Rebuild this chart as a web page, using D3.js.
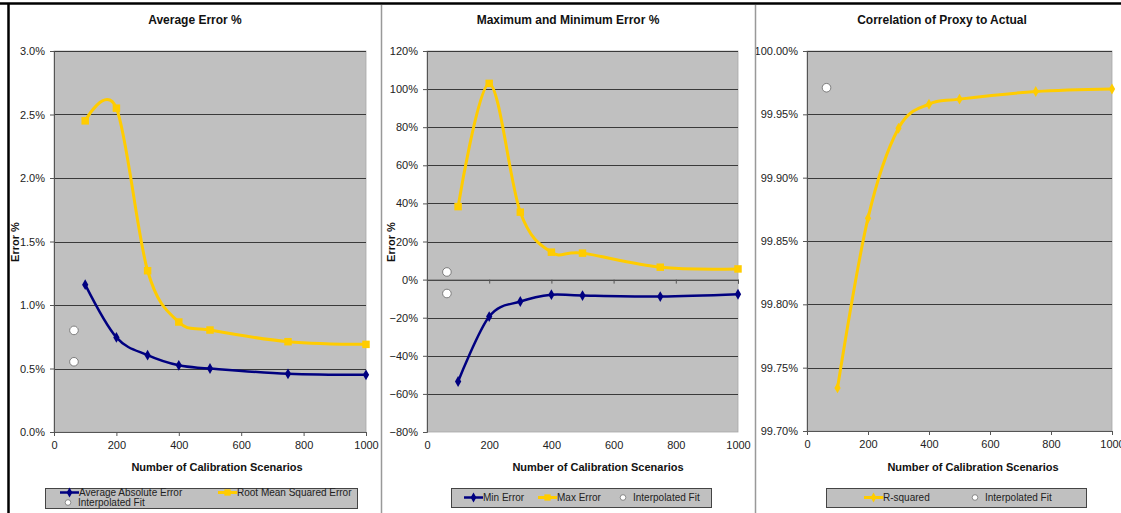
<!DOCTYPE html>
<html>
<head>
<meta charset="utf-8">
<script src="https://cdn.jsdelivr.net/npm/d3@7"></script>
<style>
  html, body { margin: 0; padding: 0; background: #fff; }
  svg { display: block; font-family: "Liberation Sans", Arial, sans-serif; }
</style>
</head>
<body>
<svg id="chart" width="1121" height="513"></svg>
<script>
// ---------------- data ----------------
const scenarios = [100, 200, 300, 400, 500, 750, 1000];
const avgAbsError = [1.16, 0.745, 0.605, 0.525, 0.50, 0.458, 0.45];
const rmsError = [2.45, 2.55, 1.27, 0.866, 0.803, 0.711, 0.69];
const interpX = 64;
const interpAvgError = [0.80, 0.553];
const minError = [-53.5, -19.4, -11.5, -7.9, -8.4, -8.9, -7.7];
const maxError = [38.3, 103, 35.4, 14.4, 13.9, 6.5, 5.6];
const interpMinMax = [4.0, -7.3];
const rSquared = [99.734, 99.868, 99.939, 99.958, 99.962, 99.968, 99.970];
const interpRSquared = [99.971];

const xTicks = [0, 200, 400, 600, 800, 1000];
const yTicksAvg = [0, 0.5, 1.0, 1.5, 2.0, 2.5, 3.0];
const yTicksMinMax = [-80, -60, -40, -20, 0, 20, 40, 60, 80, 100, 120];
const yTicksR2 = [99.70, 99.75, 99.80, 99.85, 99.90, 99.95, 100.00];

const titles = ["Average Error %", "Maximum and Minimum Error %", "Correlation of Proxy  to Actual"];
const xTitle = "Number of Calibration Scenarios";
const yTitle = "Error %";

const NAVY = "#000080", YELLOW = "#FFCC00";

// ---------------- drawing ----------------
const svg = d3.select("#chart");
svg.append("rect").attr("width", 1121).attr("height", 513).attr("fill", "#fff");

const curve = d3.curveCardinal.tension(0);

const panels = [
  {
    title: titles[0], px: [54, 366], py: [432, 51], ydom: [0, 3], yTicks: yTicksAvg,
    fmt: v => d3.format(".1f")(v) + "%", xAxisAt: 0, yTitle: yTitle, yTitleX: 15,
    series: [
      { values: avgAbsError, color: NAVY, sym: d3.symbolDiamond, size: 34, width: 2.5 },
      { values: rmsError, color: YELLOW, sym: d3.symbolSquare, size: 56, width: 3 }
    ],
    interp: interpAvgError, titleX: 195, xTitleX: 217,
    legend: { box: [45, 488, 312, 20], items: [
      { type: "line", color: NAVY, sym: d3.symbolDiamond, x: 60, y: 492.5, label: "Average Absolute Error" },
      { type: "line", color: YELLOW, sym: d3.symbolSquare, x: 218, y: 492.5, label: "Root Mean Squared Error" },
      { type: "circle", x: 68, y: 502.5, label: "Interpolated Fit", tx: 78 }
    ]}
  },
  {
    title: titles[1], px: [427, 738], py: [432, 51], ydom: [-80, 120], yTicks: yTicksMinMax,
    fmt: v => d3.format("d")(v) + "%", xAxisAt: 0, yTitle: yTitle, yTitleX: 391,
    series: [
      { values: minError, color: NAVY, sym: d3.symbolDiamond, size: 34, width: 2.5 },
      { values: maxError, color: YELLOW, sym: d3.symbolSquare, size: 56, width: 3 }
    ],
    interp: interpMinMax, titleX: 568, xTitleX: 598,
    legend: { box: [451, 488, 260, 19], items: [
      { type: "line", color: NAVY, sym: d3.symbolDiamond, x: 464, y: 497.5, label: "Min Error" },
      { type: "line", color: YELLOW, sym: d3.symbolSquare, x: 538, y: 497.5, label: "Max Error" },
      { type: "circle", x: 623, y: 497.5, label: "Interpolated Fit", tx: 633 }
    ]}
  },
  {
    title: titles[2], px: [807, 1112], py: [431, 51], ydom: [99.70, 100.00], yTicks: yTicksR2,
    fmt: v => d3.format(".2f")(v) + "%", xAxisAt: 99.70, yTitle: null,
    series: [
      { values: rSquared, color: YELLOW, sym: d3.symbolDiamond, size: 34, width: 3 }
    ],
    interp: interpRSquared, titleX: 942, xTitleX: 973,
    legend: { box: [826, 488, 260, 19], items: [
      { type: "line", color: YELLOW, sym: d3.symbolDiamond, x: 864, y: 497.5, label: "R-squared" },
      { type: "circle", x: 975, y: 497.5, label: "Interpolated Fit", tx: 985 }
    ]}
  }
];

panels.forEach(p => {
  const g = svg.append("g");
  const x = d3.scaleLinear().domain([0, 1000]).range(p.px);
  const y = d3.scaleLinear().domain(p.ydom).range(p.py);

  // title
  g.append("text").attr("x", p.titleX).attr("y", 24).attr("text-anchor", "middle")
    .attr("font-size", 12).attr("font-weight", "bold").attr("fill", "#111").text(p.title);

  // plot background
  g.append("rect").attr("x", p.px[0]).attr("y", p.py[1])
    .attr("width", p.px[1] - p.px[0]).attr("height", p.py[0] - p.py[1])
    .attr("fill", "#C0C0C0").attr("stroke", "#A8A8A8").attr("stroke-width", 0.8);

  // gridlines
  g.append("g").selectAll("line").data(p.yTicks.slice(1)).join("line")
    .attr("x1", p.px[0]).attr("x2", p.px[1])
    .attr("y1", d => Math.round(y(d)) + 0.5).attr("y2", d => Math.round(y(d)) + 0.5)
    .attr("stroke", "#3a3a3a").attr("stroke-width", 1);

  // y axis
  const yAxis = d3.axisLeft(y).tickValues(p.yTicks).tickFormat(p.fmt).tickSizeOuter(0).tickSize(4).tickPadding(5);
  const ya = g.append("g").attr("transform", `translate(${p.px[0]},0)`).call(yAxis);
  ya.select(".domain").attr("stroke", "#555");
  ya.selectAll(".tick line").attr("stroke", "#555");
  ya.selectAll(".tick text").attr("font-size", 11).attr("fill", "#222")
    .attr("font-family", "Liberation Sans, Arial, sans-serif");

  // x axis line with ticks at xAxisAt
  const xAxisLine = d3.axisBottom(x).tickValues(xTicks).tickFormat("").tickSizeOuter(0).tickSize(4);
  const xa = g.append("g").attr("transform", `translate(0,${y(p.xAxisAt)})`).call(xAxisLine);
  xa.select(".domain").attr("stroke", "#555");
  xa.selectAll(".tick line").attr("stroke", "#555");
  // x labels at bottom
  const xLab = d3.axisBottom(x).tickValues(xTicks).tickFormat(d3.format("d")).tickSize(0).tickPadding(9);
  const xl = g.append("g").attr("transform", `translate(0,${p.py[0]})`).call(xLab);
  xl.select(".domain").remove();
  xl.selectAll(".tick text").attr("font-size", 11).attr("fill", "#222")
    .attr("font-family", "Liberation Sans, Arial, sans-serif");

  // x title
  g.append("text").attr("x", p.xTitleX).attr("y", 471).attr("text-anchor", "middle")
    .attr("font-size", 11).attr("font-weight", "bold").attr("fill", "#111").text(xTitle);

  // y title
  if (p.yTitle) {
    g.append("text").attr("transform", `translate(${p.yTitleX + 4},242) rotate(-90)`)
      .attr("text-anchor", "middle").attr("font-size", 11).attr("font-weight", "bold")
      .attr("fill", "#111").text(p.yTitle);
  }

  // series
  p.series.forEach(s => {
    const pts = scenarios.map((sc, i) => [sc, s.values[i]]);
    g.append("path").datum(pts)
      .attr("d", d3.line().x(d => x(d[0])).y(d => y(d[1])).curve(curve))
      .attr("fill", "none").attr("stroke", s.color).attr("stroke-width", s.width)
      .attr("stroke-linejoin", "round");
    g.append("g").selectAll("path").data(pts).join("path")
      .attr("transform", d => `translate(${x(d[0])},${y(d[1])})`)
      .attr("d", d3.symbol(s.sym, s.size)).attr("fill", s.color);
  });

  // interpolated fit circles
  g.append("g").selectAll("circle").data(p.interp).join("circle")
    .attr("cx", x(interpX)).attr("cy", d => y(d)).attr("r", 4.3)
    .attr("fill", "#fff").attr("stroke", "#666").attr("stroke-width", 0.8);

  // legend
  const L = p.legend;
  g.append("rect").attr("x", L.box[0] + 0.5).attr("y", L.box[1] + 0.5).attr("width", L.box[2]).attr("height", L.box[3])
    .attr("fill", "#C0C0C0").attr("stroke", "#444").attr("stroke-width", 1);
  L.items.forEach(it => {
    if (it.type === "line") {
      g.append("line").attr("x1", it.x).attr("x2", it.x + 19).attr("y1", it.y).attr("y2", it.y)
        .attr("stroke", it.color).attr("stroke-width", it.color === NAVY ? 2.5 : 3);
      g.append("path").attr("transform", `translate(${it.x + 9.5},${it.y})`)
        .attr("d", d3.symbol(it.sym, it.sym === d3.symbolSquare ? 40 : 28)).attr("fill", it.color);
      g.append("text").attr("x", it.x + 19).attr("y", it.y + 3.5).attr("font-size", 10)
        .attr("fill", "#222").text(it.label);
    } else {
      g.append("circle").attr("cx", it.x).attr("cy", it.y).attr("r", 2.8)
        .attr("fill", "#fff").attr("stroke", "#666").attr("stroke-width", 0.7);
      g.append("text").attr("x", it.tx || it.x + 10).attr("y", it.y + 3.5).attr("font-size", 10)
        .attr("fill", "#222").text(it.label);
    }
  });
});

// frame borders and separators
svg.append("line").attr("x1", 0).attr("x2", 1121).attr("y1", 3.5).attr("y2", 3.5)
  .attr("stroke", "#000").attr("stroke-width", 2.5);
svg.append("line").attr("x1", 8.5).attr("x2", 8.5).attr("y1", 3).attr("y2", 513)
  .attr("stroke", "#000").attr("stroke-width", 2.5);
[381.5, 755.5].forEach(sx => {
  svg.append("line").attr("x1", sx).attr("x2", sx).attr("y1", 5).attr("y2", 513)
    .attr("stroke", "#999").attr("stroke-width", 1.5);
});
</script>
</body>
</html>
